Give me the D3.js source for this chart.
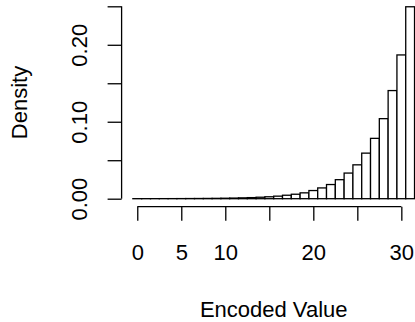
<!DOCTYPE html>
<html><head><meta charset="utf-8">
<script src="https://cdn.jsdelivr.net/npm/d3@7"></script>
<style>body{margin:0;background:#fff}svg{display:block}text{font-family:"Liberation Sans",Arial,sans-serif;fill:#000}</style>
</head><body>
<script>
// Data (bins centred on integer encoded values 0..31)
const binCenters = [0,1,2,3,4,5,6,7,8,9,10,11,12,13,14,15,16,17,18,19,20,21,22,23,24,25,26,27,28,29,30,31];
const densities = [0.00003,0.00004,0.00006,0.00008,0.0001,0.00014,0.0002,0.00026,0.00034,0.00045,0.0006,0.0008,0.0011,0.0014,0.0019,0.0025,0.0033,0.0045,0.0058,0.0076,0.0106,0.0140,0.0184,0.0247,0.0333,0.0440,0.0592,0.0784,0.1040,0.1405,0.1868,0.2494];
const xTicks = [0,5,10,15,20,25,30];
const xTickLabels = ["0","5","10","","20","","30"];
const yTicks = [0,0.05,0.10,0.15,0.20,0.25];
const yTickLabels = ["0.00","","0.10","","0.20",""];
const xTitle = "Encoded Value";
const yTitle = "Density";

const W = 415, H = 322;
const svg = d3.select("body").append("svg").attr("width", W).attr("height", H);
const x = d3.scaleLinear().domain([-1.78, 32.78]).range([121.6, 425.8]);
const y = d3.scaleLinear().domain([-0.0104, 0.2604]).range([206.7, -1.7]);
const fs = 22;

svg.append("g").selectAll("rect").data(binCenters).join("rect")
  .attr("x", d => x(d - 0.5)).attr("width", d => x(d + 0.5) - x(d - 0.5))
  .attr("y", (d,i) => y(densities[i])).attr("height", (d,i) => Math.max(0.05, y(0) - y(densities[i])))
  .attr("fill", "#fff").attr("stroke", "#000").attr("stroke-width", 1.3);

const xa = svg.append("g").attr("transform", `translate(0,${y(-0.0104)})`)
  .call(d3.axisBottom(x).tickValues(xTicks).tickSize(14).tickFormat((d,i) => xTickLabels[i]));
xa.select(".domain").attr("d", `M${x(0)},0H${x(30)}`);
const ya = svg.append("g").attr("transform", `translate(${x(-1.78)},0)`)
  .call(d3.axisLeft(y).tickValues(yTicks).tickSize(14).tickFormat((d,i) => yTickLabels[i]));
ya.select(".domain").attr("d", `M0,${y(0)}V${y(0.25)}`);
svg.selectAll(".domain, .tick line").attr("stroke", "#000").attr("stroke-width", 1.3);
xa.selectAll(".tick text").attr("y", 0).attr("dy", null).attr("font-size", fs)
  .attr("transform", "translate(0,53)").attr("font-family", null);
ya.selectAll(".tick text").attr("x", null).attr("dy", null).attr("font-size", fs)
  .attr("text-anchor", "middle").attr("font-family", null)
  .attr("transform", function(){ return `translate(${87 - x(-1.78)},0) rotate(-90)`; });

svg.append("text").attr("x", 273.7).attr("y", 316.5).attr("text-anchor", "middle")
  .attr("font-size", fs).text(xTitle);
svg.append("text").attr("transform", `translate(27,102.5) rotate(-90)`).attr("text-anchor", "middle")
  .attr("font-size", fs).text(yTitle);
</script>
</body></html>
